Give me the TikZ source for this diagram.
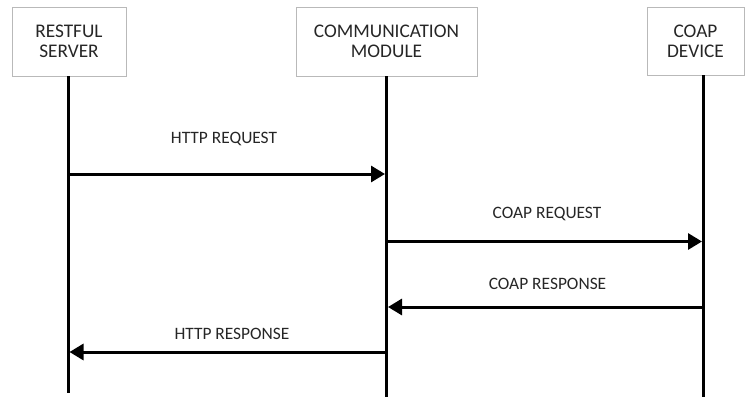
\documentclass[tikz,border=0pt]{standalone}
\usepackage{fontspec}
\setmainfont{Carlito}
\usetikzlibrary{arrows.meta}

\begin{document}
\begin{tikzpicture}[x=1pt,y=-1pt,
	actor/.style={draw=gray!55,line width=0.8pt,align=center,inner sep=0pt,font=\fontsize{19.3}{20}\selectfont,text=black!85},
	life/.style={line width=3pt},
	msg/.style={line width=3pt,-{Triangle[length=14pt,width=16pt]},shorten >=1.5pt},
	lbl/.style={anchor=base,font=\fontsize{17.4}{17}\selectfont,text=black!85}]
	\useasboundingbox (0,0) rectangle (752,399);

	\node[actor,minimum width=114pt,minimum height=69pt] (srv) at (69,41.5) {RESTFUL\\SERVER};
	\node[actor,minimum width=181pt,minimum height=69pt] (mod) at (386.5,41.5) {COMMUNICATION\\MODULE};
	\node[actor,minimum width=97pt,minimum height=68pt] (dev) at (695.5,41) {COAP\\DEVICE};

	\coordinate (srvTop) at (68,76);
	\coordinate (srvEnd) at (68,393);
	\coordinate (modTop) at (386.5,76);
	\coordinate (modEnd) at (386.5,397);
	\coordinate (devTop) at (703.5,75);
	\coordinate (devEnd) at (703.5,397);

	\path [life] (srvTop) edge (srvEnd);
	\path [life] (modTop) edge (modEnd);
	\path [life] (devTop) edge (devEnd);

	\coordinate (m1) at (0,174);
	\coordinate (m2) at (0,241.5);
	\coordinate (m3) at (0,307);
	\coordinate (m4) at (0,352);

	\path [msg] (srvTop |- m1) edge (modTop |- m1);
	\path [msg] (modTop |- m2) edge (devTop |- m2);
	\path [msg] (devTop |- m3) edge (modTop |- m3);
	\path [msg] (modTop |- m4) edge (srvTop |- m4);

	\node[lbl] (httpReq) at (224,143) {HTTP REQUEST};
	\node[lbl] (coapReq) at (547,218) {COAP REQUEST};
	\node[lbl] (coapRes) at (547.5,289) {COAP RESPONSE};
	\node[lbl] (httpRes) at (232,339) {HTTP RESPONSE};
\end{tikzpicture}
\end{document}
